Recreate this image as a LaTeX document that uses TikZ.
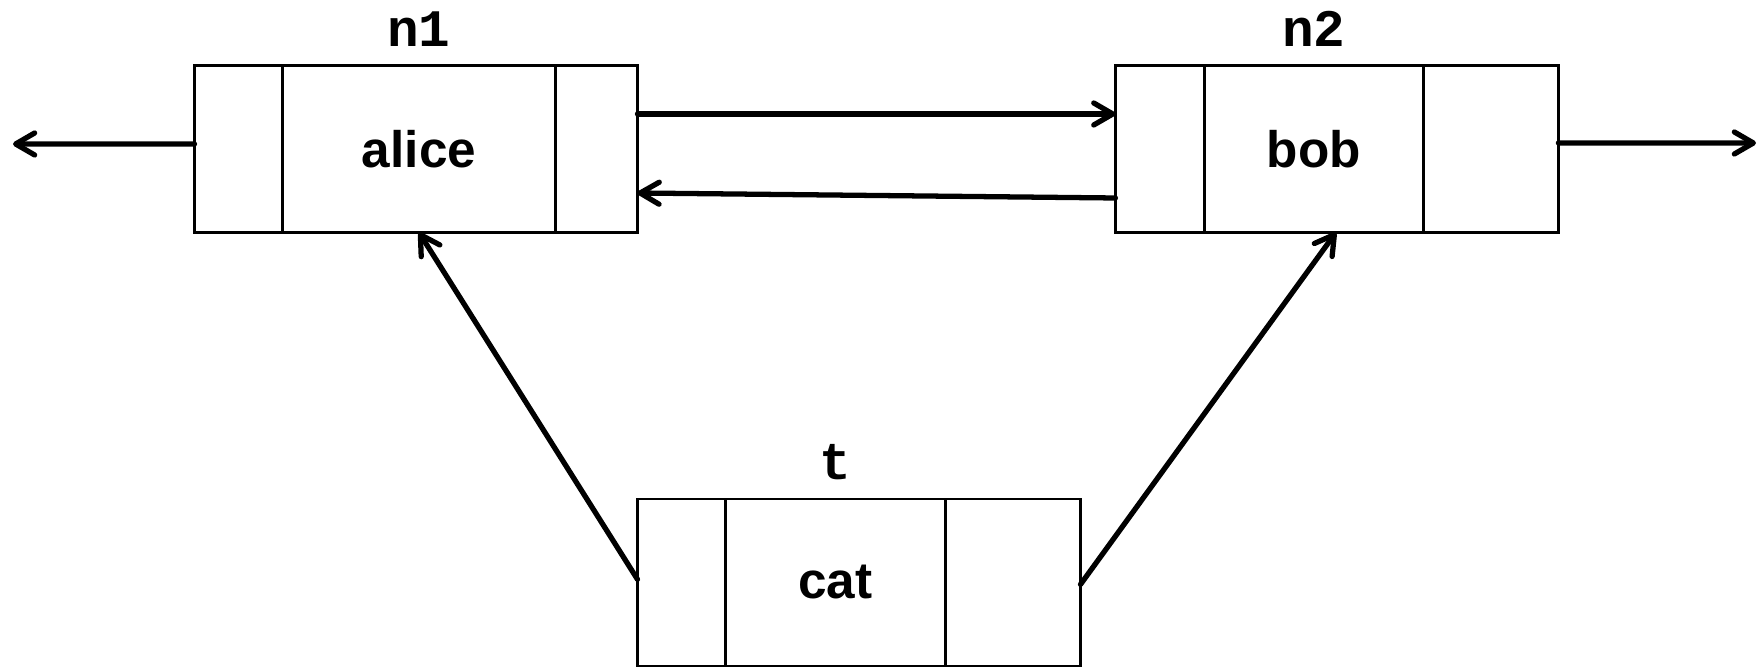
\documentclass[tikz,border=0pt]{standalone}
\usepackage{fontspec}
\setmainfont{Liberation Sans}
\setmonofont{Liberation Mono}
\usepackage{tikz}
\usetikzlibrary{positioning,arrows.meta}

\begin{document}
\begin{tikzpicture}[
      cell/.style={rectangle,draw,line width=0.75pt,minimum height=16.7mm,inner sep=0pt,outer sep=0pt,
                   font=\fontsize{14.6}{17}\selectfont\bfseries},
      tag/.style={inner sep=0pt,font=\fontsize{15}{17}\selectfont\ttfamily\bfseries},
      link/.style={-{Straight Barb[length=1.9mm,width=2.2mm,line join=round,line cap=round]},
                   line width=1.5pt,line cap=round}]
    \useasboundingbox (0,0) rectangle (17.63,6.67);
    \node[cell,minimum width=8.8mm,anchor=west] (n1prev) at (1.945,5.18) {};
    \node[cell,minimum width=27.3mm,right=0pt of n1prev] (n1) {alice};
    \node[cell,minimum width=8.2mm,right=0pt of n1] (n1next) {};
    \node[tag,above=1.8mm of n1] (n1lab) {n1};
    \node[cell,minimum width=8.9mm,anchor=west] (n2prev) at (11.154,5.18) {};
    \node[cell,minimum width=21.9mm,right=0pt of n2prev] (n2) {bob};
    \node[cell,minimum width=13.5mm,right=0pt of n2] (n2next) {};
    \node[tag,above=1.8mm of n2] (n2lab) {n2};
    \node[cell,minimum width=8.8mm,anchor=west] (tprev) at (6.375,0.846) {};
    \node[cell,minimum width=22.0mm,right=0pt of tprev] (t) {cat};
    \node[cell,minimum width=13.5mm,right=0pt of t] (tnext) {};
    \node[tag,above=1.8mm of t] (tlab) {t};
    \coordinate (nilL) at (0.13,5.23);
    \coordinate (nilR) at (17.56,5.24);
    \draw[link] ([yshift=0.5mm]n1prev.west) -- (nilL);
    \draw[link] ([yshift=3.5mm]n1next.east) -- ([yshift=3.5mm]n2prev.west);
    \draw[link] ([yshift=-4.9mm]n2prev.west) -- ([yshift=-4.4mm]n1next.east);
    \draw[link] ([yshift=0.6mm]n2next.east) -- (nilR);
    \draw[link] ([yshift=0.3mm]tprev.west) -- (n1.south);
    \draw[link] ([yshift=-0.2mm]tnext.east) -- ([xshift=2.2mm]n2.south);
  \end{tikzpicture}
\end{document}
